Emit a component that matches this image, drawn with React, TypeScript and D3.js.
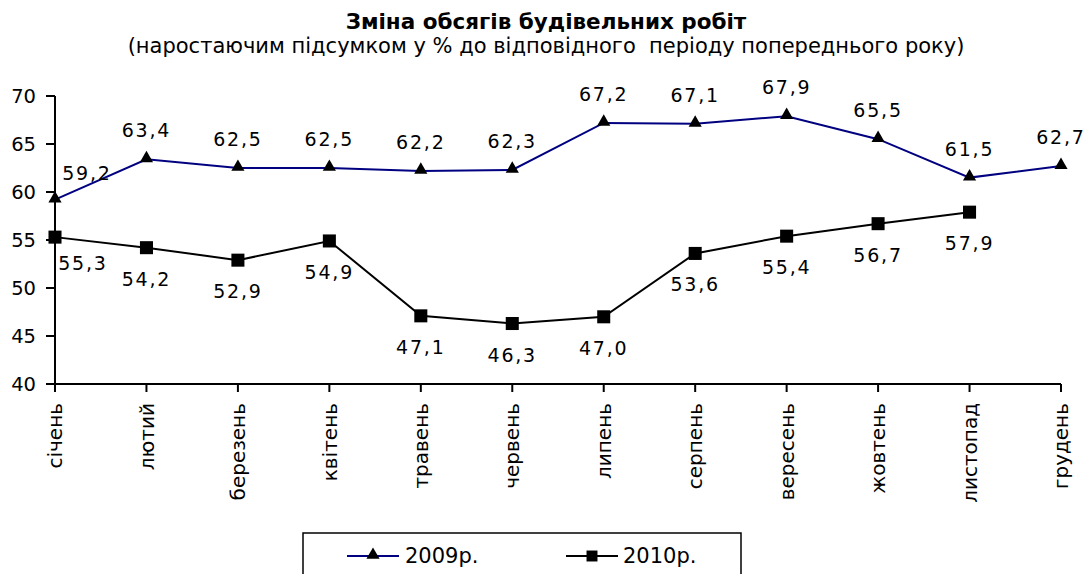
import { useMemo } from "react";
import * as d3 from "d3";

const months = [
  "січень",
  "лютий",
  "березень",
  "квітень",
  "травень",
  "червень",
  "липень",
  "серпень",
  "вересень",
  "жовтень",
  "листопад",
  "грудень",
];

const values2009 = [59.2, 63.4, 62.5, 62.5, 62.2, 62.3, 67.2, 67.1, 67.9, 65.5, 61.5, 62.7];
const values2010 = [55.3, 54.2, 52.9, 54.9, 47.1, 46.3, 47.0, 53.6, 55.4, 56.7, 57.9];

const yTicks = [40, 45, 50, 55, 60, 65, 70];

const seriesNames = ["2009р.", "2010р."];

const W = 1090;
const H = 574;
const FONT = "'DejaVu Sans', sans-serif";

const fmt = (v: number) => v.toFixed(1).replace(".", ",");

export default function App() {
  const x = useMemo(
    () => d3.scalePoint<string>().domain(months).range([55, 1061]),
    [],
  );
  const y = useMemo(() => d3.scaleLinear().domain([40, 70]).range([384, 96]), []);

  const line = d3
    .line<number>()
    .x((_, i) => x(months[i]) ?? 0)
    .y((d) => y(d));

  const tri = d3.symbol().type(d3.symbolTriangle).size(75)() ?? "";
  const sq = d3.symbol().type(d3.symbolSquare).size(170)() ?? "";

  return (
    <svg
      width={W}
      height={H}
      style={{ position: "absolute", left: 0, top: 0, background: "#fff" }}
      fontFamily={FONT}
    >
      {/* titles */}
      <text x={546} y={29} textAnchor="middle" fontWeight="bold" fontSize={21.5}>
        Зміна обсягів будівельних робіт
      </text>
      <text x={546} y={53} textAnchor="middle" fontSize={21} xmlSpace="preserve">
        (наростаючим підсумком у % до відповідного  періоду попереднього року)
      </text>

      {/* y axis */}
      <line x1={55} x2={55} y1={y(70)} y2={y(40)} stroke="#000" strokeWidth={2} />
      {yTicks.map((t) => (
        <g key={t} transform={`translate(0,${y(t)})`}>
          <line x1={46} x2={55} stroke="#000" strokeWidth={2} />
          <text x={36} dy="0.36em" textAnchor="end" fontSize={19.5}>
            {t}
          </text>
        </g>
      ))}

      {/* x axis */}
      <line x1={55} x2={1061} y1={y(40)} y2={y(40)} stroke="#000" strokeWidth={2} />
      {months.map((m) => (
        <g key={m} transform={`translate(${x(m)},${y(40)})`}>
          <line y1={0} y2={8} stroke="#000" strokeWidth={2} />
          <text
            transform="translate(0,19) rotate(-90)"
            textAnchor="end"
            dy="0.36em"
            fontSize={20}
          >
            {m}
          </text>
        </g>
      ))}

      {/* series lines */}
      <path d={line(values2009) ?? ""} fill="none" stroke="#000080" strokeWidth={2} />
      <path d={line(values2010) ?? ""} fill="none" stroke="#000" strokeWidth={2} />

      {values2009.map((v, i) => (
        <path
          key={`t${i}`}
          d={tri}
          transform={`translate(${x(months[i])},${y(v) - 1})`}
          fill="#000"
        />
      ))}
      {values2010.map((v, i) => (
        <path
          key={`s${i}`}
          d={sq}
          transform={`translate(${x(months[i])},${y(v)})`}
          fill="#000"
        />
      ))}

      {/* data labels */}
      {values2009.map((v, i) => (
        <text
          key={`l9${i}`}
          x={(x(months[i]) ?? 0) + (i === 0 ? 32 : 0)}
          y={y(v) - (i === 0 ? 20 : 22)}
          textAnchor="middle"
          fontSize={19}
          letterSpacing={1.8}
        >
          {fmt(v)}
        </text>
      ))}
      {values2010.map((v, i) => (
        <text
          key={`l10${i}`}
          x={(x(months[i]) ?? 0) + (i === 0 ? 28 : 0)}
          y={y(v) + (i === 0 ? 33 : 38)}
          textAnchor="middle"
          fontSize={19}
          letterSpacing={1.8}
        >
          {fmt(v)}
        </text>
      ))}

      {/* legend */}
      <rect x={303} y={533} width={438} height={60} fill="none" stroke="#000" strokeWidth={1.5} />
      <line x1={347} x2={399} y1={556} y2={556} stroke="#000080" strokeWidth={2} />
      <path d={tri} transform="translate(373,555)" fill="#000" />
      <text x={405} y={563} fontSize={21}>
        {seriesNames[0]}
      </text>
      <line x1={566} x2={618} y1={556} y2={556} stroke="#000" strokeWidth={2} />
      <path d={d3.symbol().type(d3.symbolSquare).size(120)() ?? ""} transform="translate(592,556)" fill="#000" />
      <text x={623} y={563} fontSize={21}>
        {seriesNames[1]}
      </text>
    </svg>
  );
}
